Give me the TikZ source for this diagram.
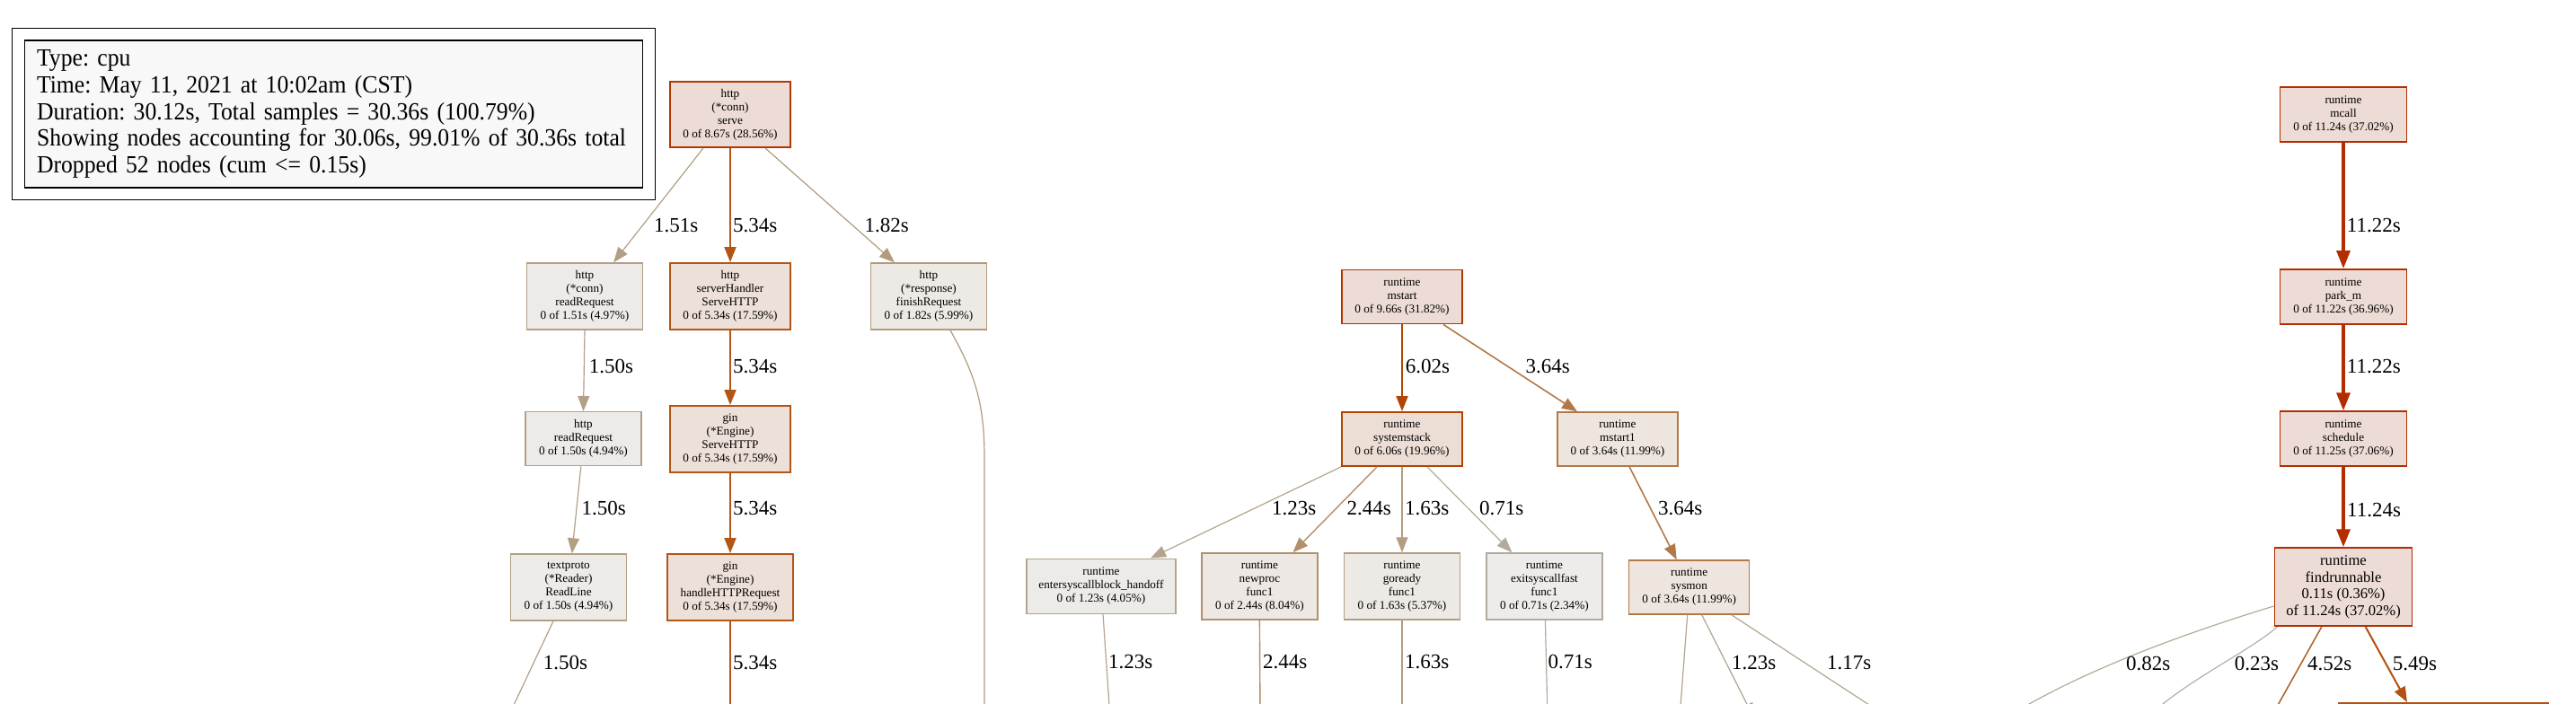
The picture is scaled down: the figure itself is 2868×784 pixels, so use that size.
\documentclass[tikz,border=0pt]{standalone}
\usepackage{fontspec}
\setmainfont{Liberation Serif}
\newfontfamily\legendfont[FakeStretch=0.935]{Liberation Serif}
\usetikzlibrary{arrows.meta,fit,calc}
\definecolor{legfill}{HTML}{F8F8F8}
\definecolor{fA}{HTML}{EDDBD5}\definecolor{dA}{HTML}{B22E00}
\definecolor{fMs}{HTML}{EDDCD5}\definecolor{dMs}{HTML}{B23300}
\definecolor{fServe}{HTML}{EDDCD5}\definecolor{dServe}{HTML}{B23700}
\definecolor{fSys}{HTML}{EDDED5}\definecolor{dSys}{HTML}{B24400}
\definecolor{fGin}{HTML}{EDE0D8}\definecolor{dGin}{HTML}{B25515}
\definecolor{fMa}{HTML}{EDE5DE}\definecolor{dMa}{HTML}{B27947}
\definecolor{fNp}{HTML}{EDE8E3}\definecolor{dNp}{HTML}{B2906A}
\definecolor{fFin}{HTML}{EDEAE6}\definecolor{dFin}{HTML}{B29B7D}
\definecolor{fGo}{HTML}{EDEAE6}\definecolor{dGo}{HTML}{B29E82}
\definecolor{fRr}{HTML}{EDEAE7}\definecolor{dRr}{HTML}{B2A086}
\definecolor{fEs}{HTML}{EDEBE8}\definecolor{dEs}{HTML}{B2A48E}
\definecolor{fEx}{HTML}{EDECEA}\definecolor{dEx}{HTML}{B2AB9D}
\definecolor{eSix}{HTML}{B24501}
\definecolor{eOneSeven}{HTML}{B2A590}
\definecolor{eEight}{HTML}{B2AA9A}
\definecolor{eTwoThree}{HTML}{B2B0AB}
\definecolor{eFour}{HTML}{B2672D}
\definecolor{eFive}{HTML}{B25111}
\tikzset{
  box/.style={draw, rectangle, inner sep=0pt, align=center, line width=1.4pt,
    font=\fontsize{13.2}{15}\selectfont},
  heavy/.style={line width=1.9pt},
  nc/.style 2 args={fill=#1, draw=#2},
  lbl/.style={anchor=west, inner sep=0pt, font=\fontsize{23}{27}\selectfont},
  arr/.style={-{Triangle[length=17pt,width=13pt]}},
  bigarr/.style={-{Triangle[length=20pt,width=15pt]}},
  edgeline/.style={line width=1.2pt},
}
\begin{document}
\frenchspacing
\begin{tikzpicture}[x=1pt,y=-1pt]
\useasboundingbox (0,0) rectangle (2868,784);
\clip (0,0) rectangle (2868,784);

% legend
\node[draw=black, line width=1.3pt, fill=legfill, minimum width=688pt, minimum height=164pt,
  text width=661pt, align=left, inner sep=0pt, font=\legendfont\fontsize{27.5}{29.75}\selectfont]
  (legend) at (371.5,127)
  {Type: cpu\\Time: May 11, 2021 at 10:02am (CST)\\Duration: 30.12s, Total samples = 30.36s (100.79\%)\\Showing nodes accounting for 30.06s, 99.01\% of 30.36s total\\Dropped 52 nodes (cum <= 0.15s)};
\node[draw=black, line width=1.3pt, fit=(legend), inner xsep=13.5pt, inner ysep=12.5pt] (legendframe) {};

% http column
\node[box, heavy, nc={fServe}{dServe}, minimum width=134pt, minimum height=73pt] (serve) at (813,127.5) {http\\(*conn)\\serve\\0 of 8.67s (28.56\%)};
\node[box, nc={fRr}{dRr}, minimum width=129pt, minimum height=74pt] (rrconn) at (651,330) {http\\(*conn)\\readRequest\\0 of 1.51s (4.97\%)};
\node[box, heavy, nc={fGin}{dGin}, minimum width=134pt, minimum height=74pt] (shandler) at (813,330) {http\\serverHandler\\ServeHTTP\\0 of 5.34s (17.59\%)};
\node[box, nc={fFin}{dFin}, minimum width=129pt, minimum height=74pt] (finish) at (1034,330) {http\\(*response)\\finishRequest\\0 of 1.82s (5.99\%)};
\node[box, nc={fRr}{dRr}, minimum width=129pt, minimum height=60pt] (rreq) at (649.5,488.7) {http\\readRequest\\0 of 1.50s (4.94\%)};
\node[box, heavy, nc={fGin}{dGin}, minimum width=134pt, minimum height=74pt] (ginserve) at (813,489) {gin\\(*Engine)\\ServeHTTP\\0 of 5.34s (17.59\%)};
\node[box, nc={fRr}{dRr}, minimum width=129.5pt, minimum height=74pt] (readline) at (633,654) {textproto\\(*Reader)\\ReadLine\\0 of 1.50s (4.94\%)};
\node[box, heavy, nc={fGin}{dGin}, minimum width=140pt, minimum height=74pt] (ginhandle) at (813,654) {gin\\(*Engine)\\handleHTTPRequest\\0 of 5.34s (17.59\%)};

% runtime mstart group
\node[box, heavy, nc={fMs}{dMs}, minimum width=134pt, minimum height=60pt] (mstart) at (1561,330.5) {runtime\\mstart\\0 of 9.66s (31.82\%)};
\node[box, heavy, nc={fSys}{dSys}, minimum width=134pt, minimum height=60pt] (systemstack) at (1561,489) {runtime\\systemstack\\0 of 6.06s (19.96\%)};
\node[box, nc={fMa}{dMa}, minimum width=134pt, minimum height=60pt] (mstartone) at (1801,489) {runtime\\mstart1\\0 of 3.64s (11.99\%)};
\node[box, nc={fEs}{dEs}, minimum width=166pt, minimum height=61pt] (entersys) at (1226,652.7) {runtime\\entersyscallblock\_handoff\\0 of 1.23s (4.05\%)};
\node[box, nc={fNp}{dNp}, minimum width=129pt, minimum height=74pt] (newproc) at (1402.4,653) {runtime\\newproc\\func1\\0 of 2.44s (8.04\%)};
\node[box, nc={fGo}{dGo}, minimum width=129pt, minimum height=74pt] (goready) at (1561,653) {runtime\\goready\\func1\\0 of 1.63s (5.37\%)};
\node[box, nc={fEx}{dEx}, minimum width=129pt, minimum height=74pt] (exitsys) at (1719.4,653) {runtime\\exitsyscallfast\\func1\\0 of 0.71s (2.34\%)};
\node[box, nc={fMa}{dMa}, minimum width=134pt, minimum height=60pt] (sysmon) at (1880.7,654) {runtime\\sysmon\\0 of 3.64s (11.99\%)};

% runtime mcall column
\node[box, heavy, nc={fA}{dA}, minimum width=141pt, minimum height=61pt] (mcall) at (2609,127.3) {runtime\\mcall\\0 of 11.24s (37.02\%)};
\node[box, heavy, nc={fA}{dA}, minimum width=141pt, minimum height=61pt] (parkm) at (2609,330.5) {runtime\\park\_m\\0 of 11.22s (36.96\%)};
\node[box, heavy, nc={fA}{dA}, minimum width=141pt, minimum height=61pt] (schedule) at (2609,488.7) {runtime\\schedule\\0 of 11.25s (37.06\%)};
\node[box, heavy, nc={fA}{dA}, minimum width=153pt, minimum height=87pt, font=\fontsize{16.6}{18.5}\selectfont] (findrunnable) at (2609,653.7) {runtime\\findrunnable\\0.11s (0.36\%)\\of 11.24s (37.02\%)};
\node[box, heavy, nc={fGin}{eFive}, minimum width=233pt, minimum height=80pt, anchor=north] (netbox) at (2720.5,782) {};

% off-canvas end points
\coordinate (readline-end) at (565,800);
\coordinate (ginhandle-end) at (813,800);
\coordinate (finish-end) at (1096,800);
\coordinate (entersys-end) at (1236,800);
\coordinate (newproc-end) at (1403,800);
\coordinate (goready-end) at (1561,800);
\coordinate (exitsys-end) at (1723,800);
\coordinate (sysmon-endA) at (1870,800);
\coordinate (sysmon-endB) at (1953,800);
\coordinate (sysmon-endC) at (2104,800);
\coordinate (find-endA) at (2232,800);
\coordinate (find-endB) at (2390,800);
\coordinate (find-endC) at (2527.8,800);

% http edges
\draw[arr, edgeline, draw=dRr, fill=dRr] ([xshift=-30pt]serve.south) -- ([xshift=32pt]rrconn.north);
\draw[arr, line width=2pt, draw=dGin, fill=dGin] (serve.south) -- (shandler.north);
\draw[arr, edgeline, draw=dFin, fill=dFin] ([xshift=39pt]serve.south) -- ([xshift=-38pt]finish.north);
\draw[arr, edgeline, draw=dRr, fill=dRr] (rrconn.south) -- (rreq.north);
\draw[arr, line width=2pt, draw=dGin, fill=dGin] (shandler.south) -- (ginserve.north);
\draw[arr, edgeline, draw=dRr, fill=dRr] ([xshift=-2.7pt]rreq.south) -- ([xshift=3.8pt]readline.north);
\draw[arr, line width=2pt, draw=dGin, fill=dGin] (ginserve.south) -- (ginhandle.north);
\draw[edgeline, draw=dRr] ([xshift=-17pt]readline.south) -- (readline-end);
\draw[line width=2pt, draw=dGin] (ginhandle.south) -- (ginhandle-end);
\draw[edgeline, draw=dFin] ([xshift=24pt]finish.south) .. controls (1084,415) and (1096,445) .. (1096,510) -- (finish-end);

% mstart edges
\draw[arr, line width=2pt, draw=eSix, fill=eSix] (mstart.south) -- (systemstack.north);
\draw[arr, line width=1.6pt, draw=dMa, fill=dMa] ([xshift=46pt]mstart.south) -- ([xshift=-45pt]mstartone.north);
\draw[arr, edgeline, draw=dEs, fill=dEs] (systemstack.south west) -- ([xshift=55pt]entersys.north);
\draw[arr, line width=1.4pt, draw=dNp, fill=dNp] ([xshift=-28pt]systemstack.south) -- ([xshift=37pt]newproc.north);
\draw[arr, edgeline, draw=dGo, fill=dGo] (systemstack.south) -- (goready.north);
\draw[arr, edgeline, draw=dEx, fill=dEx] ([xshift=28pt]systemstack.south) -- ([xshift=-36pt]exitsys.north);
\draw[arr, line width=1.6pt, draw=dMa, fill=dMa] ([xshift=13pt]mstartone.south) -- ([xshift=-14pt]sysmon.north);
\draw[edgeline, draw=dEs] ([xshift=2pt]entersys.south) -- (entersys-end);
\draw[line width=1.4pt, draw=dNp] (newproc.south) -- (newproc-end);
\draw[edgeline, draw=dGo] (goready.south) -- (goready-end);
\draw[edgeline, draw=dEx] ([xshift=1pt]exitsys.south) -- (exitsys-end);
\draw[edgeline, draw=dEs] ([xshift=-2pt]sysmon.south) -- (sysmon-endA);
\draw[arr, edgeline, draw=dEs, fill=dEs] ([xshift=14pt]sysmon.south) -- (sysmon-endB);
\draw[edgeline, draw=eOneSeven] ([xshift=47pt]sysmon.south) -- (sysmon-endC);

% mcall edges
\draw[bigarr, line width=3.5pt, draw=dA, fill=dA] (mcall.south) -- (parkm.north);
\draw[bigarr, line width=3.5pt, draw=dA, fill=dA] (parkm.south) -- (schedule.north);
\draw[bigarr, line width=3.5pt, draw=dA, fill=dA] (schedule.south) -- (findrunnable.north);
\draw[edgeline, draw=eEight] ([yshift=-21.3pt]findrunnable.west) .. controls (2440,703) and (2320,745) .. (find-endA);
\draw[edgeline, draw=eTwoThree] ([xshift=4pt]findrunnable.south west) .. controls (2500,728) and (2430,760) .. (find-endB);
\draw[line width=1.6pt, draw=eFour] ([xshift=-24.3pt]findrunnable.south) -- (find-endC);
\draw[arr, line width=2pt, draw=eFive, fill=eFive] ([xshift=24.7pt]findrunnable.south) -- ([xshift=-40.5pt]netbox.north);

% edge labels
\node[lbl] (l-rrconn) at (728,251) {1.51s};
\node[lbl] (l-shandler) at (816,251) {5.34s};
\node[lbl] (l-finish) at (962.5,251) {1.82s};
\node[lbl] (l-rreq) at (655.7,408) {1.50s};
\node[lbl] (l-ginserve) at (816,408) {5.34s};
\node[lbl] (l-readline) at (647.5,566) {1.50s};
\node[lbl] (l-ginhandle) at (816,566) {5.34s};
\node[lbl] (l-readline-out) at (604.6,738) {1.50s};
\node[lbl] (l-ginhandle-out) at (816,738) {5.34s};
\node[lbl] (l-systemstack) at (1564.6,408) {6.02s};
\node[lbl] (l-mstartone) at (1698.5,408) {3.64s};
\node[lbl] (l-entersys) at (1416,566) {1.23s};
\node[lbl] (l-newproc) at (1499.5,566) {2.44s};
\node[lbl] (l-goready) at (1564,566) {1.63s};
\node[lbl] (l-exitsys) at (1647,566) {0.71s};
\node[lbl] (l-sysmon) at (1846,566) {3.64s};
\node[lbl] (l-entersys-out) at (1234,737) {1.23s};
\node[lbl] (l-newproc-out) at (1406,737) {2.44s};
\node[lbl] (l-goready-out) at (1564,737) {1.63s};
\node[lbl] (l-exitsys-out) at (1723.5,737) {0.71s};
\node[lbl] (l-sysmon-b) at (1928,738) {1.23s};
\node[lbl] (l-sysmon-c) at (2034,738) {1.17s};
\node[lbl] (l-parkm) at (2612.7,250.7) {11.22s};
\node[lbl] (l-schedule) at (2612.7,408.3) {11.22s};
\node[lbl] (l-findrunnable) at (2613,567.7) {11.24s};
\node[lbl] (l-find-a) at (2367,739) {0.82s};
\node[lbl] (l-find-b) at (2487.6,739) {0.23s};
\node[lbl] (l-find-c) at (2569,739) {4.52s};
\node[lbl] (l-find-d) at (2663.6,739) {5.49s};
\end{tikzpicture}
\end{document}
